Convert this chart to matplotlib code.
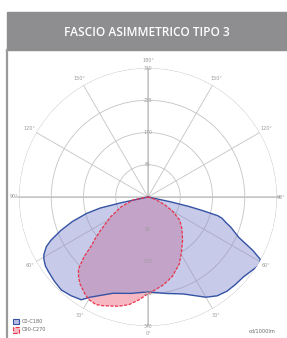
import numpy as np
import matplotlib.pyplot as plt
from matplotlib.patches import Rectangle, Patch
from matplotlib.lines import Line2D

# gamma angles (deg) and intensities (cd/1000lm)
g_c0 = [0, 10, 20, 30, 35, 40, 45, 50, 55, 59, 61, 63, 66, 70, 72, 74, 75, 76, 77, 78, 79, 90]
r_c0 = [250, 258, 272, 305, 318, 324, 326, 328, 336, 345, 338, 310, 262, 232, 215, 203, 190, 150, 110, 60, 0, 0]
g_c180 = [0, 10, 20, 30, 33, 38, 43, 48, 53, 56, 59, 61, 64, 66, 69, 72, 74, 75, 77, 78, 79, 90]
r_c180 = [250, 258, 270, 305, 323, 330, 335, 332, 328, 326, 320, 314, 298, 280, 246, 210, 180, 168, 129, 70, 0, 0]
g_c90 = [0, 5, 10, 17, 25, 31, 39, 47, 54, 60, 65, 70, 80, 90]
r_c90 = [255, 244, 235, 219, 195, 171, 145, 122, 103, 75, 49, 25, 6, 0]
g_c270 = [0, 5, 10, 15, 19, 23, 26, 30, 33, 38, 41, 44, 47, 49, 52, 55, 62, 70, 79, 90]
r_c270 = [255, 272, 288, 298, 304, 311, 315, 312, 305, 291, 279, 264, 230, 200, 175, 152, 112, 75, 40, 0]

rings = [85, 170, 255, 340]
angle_labels = [0, 30, 60, 90, 120, 150, 180]

title = 'FASCIO ASIMMETRICO TIPO 3'
legend_names = ['C0-C180', 'C90-C270']
unit = 'cd/1000lm'


def closed_curve(g_right, r_right, g_left, r_left):
    # right half from 90 down to 0, then left half from 0 up to 90
    th = np.deg2rad(list(g_right[::-1]) + [-g for g in g_left])
    r = list(r_right[::-1]) + list(r_left)
    return th, r


W, H = 287, 338
fig = plt.figure(figsize=(W / 100, H / 100), dpi=100)

# header band
fig.patches.append(Rectangle((7 / W, 1 - 50 / H), 280 / W, 38 / H,
                             transform=fig.transFigure, color='#8e8e90', zorder=0))
fig.text(147 / W, 1 - 32 / H, title, color='white', fontsize=8.6,
         family='Open Sans', weight='semibold', ha='center', va='center')
fig.lines.append(Line2D([7 / W, 7 / W], [0, 1 - 50 / H], transform=fig.transFigure,
                        color='#9a9a9a', lw=1.6))

cx, cy, R = 148, 197, 129
ax = fig.add_axes([(cx - R) / W, (H - cy - R) / H, 2 * R / W, 2 * R / H], projection='polar')
ax.set_theta_zero_location('S')
ax.set_ylim(0, 340)
ax.set_rgrids(rings, labels=[])
ax.set_thetagrids(range(0, 360, 30), labels=[])
ax.spines['polar'].set_visible(False)
ax.grid(color='#c4c4c4', lw=0.6)
ax.patch.set_alpha(0)

# main axes lines
for t in [0, np.pi]:
    ax.plot([t, t], [0, 340], color='#d4d4d4', lw=1.4, zorder=1)
for t in [np.pi / 2, -np.pi / 2]:
    ax.plot([t, t], [0, 348], color='#d4d4d4', lw=1.4, zorder=1, clip_on=False)

th_b, r_b = closed_curve(g_c0, r_c0, g_c180, r_c180)
th_r, r_r = closed_curve(g_c90, r_c90, g_c270, r_c270)

ax.fill(th_r, r_r, color='#f7b7c2', zorder=2, lw=0)
ax.fill(th_b, r_b, color='#868ccd', alpha=0.46, zorder=3, lw=0)
ax.plot(th_b, r_b, color='#3553a5', lw=1.0, zorder=4)
ax.plot(th_r, r_r, color='#e8334a', lw=0.9, ls=(0, (2.5, 1.2)), zorder=5)

# ring values along the vertical axis
for r in rings:
    for t in [0, np.pi]:
        ax.text(t, r, str(r), fontsize=3.3, color='#9a9a9a', ha='center', va='center', zorder=6)

# angle labels on both sides
for a in angle_labels:
    sides = [a] if a in (0, 180) else [a, -a]
    rr = 352 if a == 90 else 360
    for s in sides:
        ax.text(np.deg2rad(s), rr, '%d°' % a, fontsize=3.5, color='#9a9a9a',
                ha='center', va='center', clip_on=False)

handles = [Patch(facecolor='#b9bce0', edgecolor='#3553a5', lw=0.8),
           Patch(facecolor='#f7b9c3', edgecolor='#e8334a', lw=0.8, ls='--')]
fig.legend(handles, legend_names, loc='lower left', bbox_to_anchor=(8 / W, 1 / H),
           fontsize=3.6, frameon=False, handlelength=1.3, handleheight=1.3,
           handletextpad=0.6, labelspacing=0.6, labelcolor='#666666')
fig.text(262 / W, 1 - 331 / H, unit, fontsize=3.6, color='#666666', ha='center', va='center')

fig.savefig('out.png', dpi=100)
